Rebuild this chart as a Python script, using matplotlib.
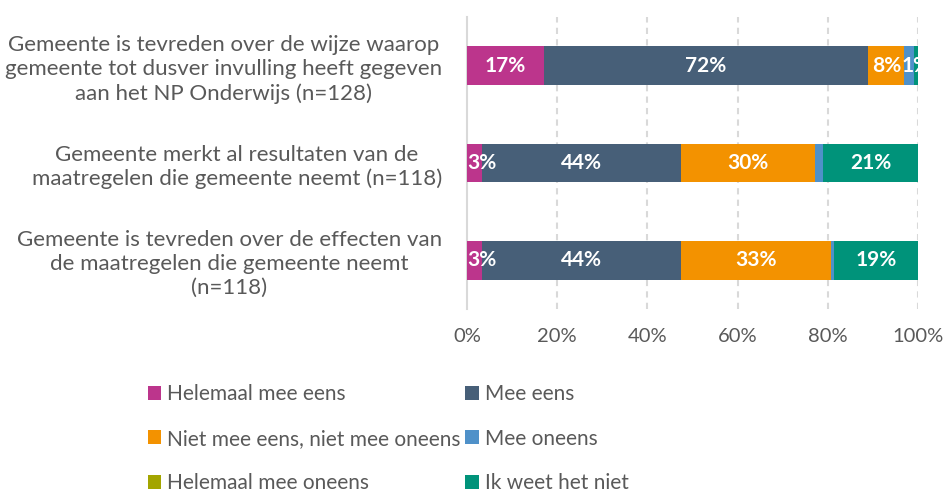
import matplotlib
matplotlib.use("Agg")
import matplotlib.pyplot as plt
import numpy as np

# Survey statements (top to bottom)
statements = [
    "Gemeente is tevreden over de wijze waarop\ngemeente tot dusver invulling heeft gegeven\naan het NP Onderwijs (n=128)",
    "Gemeente merkt al resultaten van de\nmaatregelen die gemeente neemt (n=118)",
    "Gemeente is tevreden over de effecten van\nde maatregelen die gemeente neemt\n(n=118)",
]

answers = [
    "Helemaal mee eens",
    "Mee eens",
    "Niet mee eens, niet mee oneens",
    "Mee oneens",
    "Helemaal mee oneens",
    "Ik weet het niet",
]

# Percentages per answer, one value per statement
helemaal_eens = [17.0, 3.4, 3.4]
mee_eens = [72.0, 44.1, 44.1]
neutraal = [8.0, 29.7, 33.1]
mee_oneens = [2.2, 1.7, 0.8]
helemaal_oneens = [0.0, 0.0, 0.0]
weet_niet = [0.8, 21.2, 18.6]

series = [helemaal_eens, mee_eens, neutraal, mee_oneens, helemaal_oneens, weet_niet]
colors = ["#BC358C", "#475F78", "#F39200", "#4F91C9", "#A3A500", "#00937A"]
show_labels = [True, True, True, False, False, True]

plt.rcParams["font.family"] = ["Lato", "DejaVu Sans"]
text_grey = "#595959"

fig = plt.figure(figsize=(9.46, 4.94), dpi=100)
ax = fig.add_axes([0.4937, 0.3745, 0.4767, 0.5911])

y = np.arange(len(statements))
left = np.zeros(len(statements))
bars = []
for vals, col, lab, show in zip(series, colors, answers, show_labels):
    vals = np.array(vals)
    b = ax.barh(y, vals, left=left, height=0.4, color=col, label=lab, zorder=3)
    bars.append(b)
    if show:
        for yi, v, l in zip(y, vals, left):
            if v <= 0:
                continue
            # narrow segment at the start of the bar: keep the label inside the plot
            if l == 0 and v < 5:
                xpos, ha = l, "left"
            else:
                xpos, ha = l + v / 2, "center"
            t = ax.text(xpos, yi, f"{round(v):.0f}%", ha=ha, va="center",
                        color="white", fontsize=15, fontweight="bold", zorder=4)
            t.set_clip_on(True)
    left += vals

ax.set_xlim(0, 100)
ax.set_ylim(2.5, -0.5)
ax.set_xticks(np.arange(0, 101, 20))
ax.set_xticklabels([f"{v}%" for v in range(0, 101, 20)])
ax.set_yticks(y)
ax.set_yticklabels(statements, linespacing=1.25)
for lbl in ax.get_yticklabels():
    lbl.set_multialignment("center")

ax.tick_params(axis="x", length=0, pad=14, labelsize=14.5, labelcolor=text_grey)
ax.tick_params(axis="y", length=0, pad=18, labelsize=16, labelcolor=text_grey)

for sp in ["top", "right", "bottom"]:
    ax.spines[sp].set_visible(False)
ax.spines["left"].set_color("#d9d9d9")
ax.spines["left"].set_linewidth(1.5)

for xv in range(20, 101, 20):
    ax.axvline(xv, color="#d9d9d9", lw=1.5, linestyle=(0, (3, 2.5)), zorder=1)

# Legend in rows of two
order = [0, 2, 4, 1, 3, 5]
handles = [bars[i] for i in order]
labels = [answers[i] for i in order]
fig.legend(handles, labels, ncol=2, loc="upper left", bbox_to_anchor=(0.156, 0.222),
           frameon=False, fontsize=15, labelcolor=text_grey, handlelength=0.65,
           handleheight=0.65, handletextpad=0.3, columnspacing=0.2, labelspacing=1.17,
           borderpad=0, borderaxespad=0)

fig.savefig("out.png", dpi=100)
